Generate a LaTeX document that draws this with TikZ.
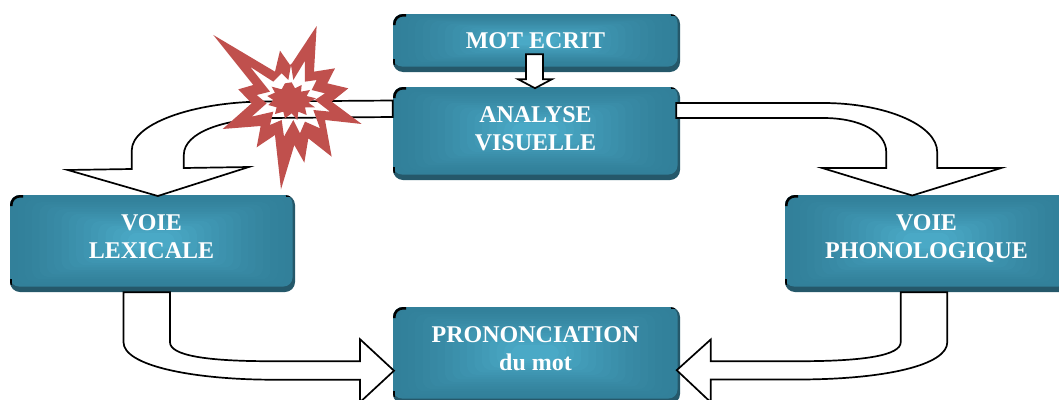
\documentclass[tikz,border=0pt]{standalone}
\usepackage{fontspec}
\setmainfont{Liberation Serif}
\usetikzlibrary{calc}
\definecolor{tealout}{HTML}{32809A}
\definecolor{tealin}{HTML}{4AA9C6}
\definecolor{tealdark}{HTML}{25586A}
\definecolor{starred}{HTML}{C0504D}
\newcommand{\boxtext}[2]{\kern-2pt\raisebox{\dimexpr#1-6pt\relax}[0pt][0pt]{\begin{tabular}{@{}c@{}}#2\end{tabular}}}
\tikzset{
  tealbox/.style n args={2}{rectangle, rounded corners=10pt, inner sep=0pt,
    minimum width=#1pt, minimum height=#2pt, fill=tealdark, text=white,
    font=\fontsize{24}{28}\selectfont\bfseries,
    path picture={
      \coordinate (nw) at (path picture bounding box.north west);
      \coordinate (se) at (path picture bounding box.south east);
      \fill[tealout, rounded corners=9pt] (nw) rectangle ($(se)+(-2.5,-5.5)$);
      \foreach \i in {1,...,16}{
        \pgfmathsetmacro{\ix}{\i*0.0258*#1}
        \pgfmathsetmacro{\iy}{\i*0.0258*(#2-5.5)}
        \pgfmathsetmacro{\mixv}{100*(\i/16)^1.4}
        \fill[tealin!\mixv!tealout, rounded corners=9pt]
          ($(nw)+(\ix,\iy)$) rectangle ($(se)+(-2.5,-5.5)+(-\ix,-\iy)$);
      }
      \draw[black, line width=5pt, rounded corners=10pt, line cap=butt]
        ($(nw)+(0,11)$) -- (nw) -- ($(nw)+(13,0)$);
      \draw[black, line width=4pt, line cap=butt]
        ($(nw)+(#1-9,0)$) -- ($(nw)+(#1-3,0)$);
      \draw[black, line width=4pt, line cap=butt]
        ($(nw)+(0,#2-13)$) -- ($(nw)+(0,#2-7)$);
    }},
  blockarrow/.style={draw=black, fill=white, line width=1.7pt, line join=miter},
  blast/.style={fill=starred, draw=none}
}
\begin{document}
\begin{tikzpicture}[x=1pt,y=-1pt]
\useasboundingbox (0,0) rectangle (1059,399);
\clip (0,0) rectangle (1059,399);
\fill[white] (0,0) rectangle (1059,399);
\node[tealbox={287}{58}] (mot) at (536.5,43) {\boxtext{0pt}{MOT ECRIT}};
\node[tealbox={287}{93}] (ana) at (536.5,133.5) {\boxtext{2.5pt}{ANALYSE\\VISUELLE}};
\node[tealbox={285}{97}] (lex) at (152.5,243.5) {\boxtext{4pt}{VOIE\\LEXICALE}};
\node[tealbox={285}{97}] (pho) at (927.5,243.5) {\boxtext{4pt}{VOIE\\PHONOLOGIQUE}};
\node[tealbox={287}{97}] (pro) at (536.5,355.5) {\boxtext{4pt}{PRONONCIATION\\du mot}};

\draw[blockarrow, shift={(mot.south)}]
  (-10.5,-18) -- (6.5,-18) -- (6.5,7) -- (15.5,7) -- (-1.5,16) -- (-18.5,7) -- (-10.5,7) -- cycle;

\draw[blockarrow, shift={(ana.west)}]
  (0,-33) -- (-128,-32) .. controls (-203,-31.5) and (-261,-8.5) .. (-261,16.5)
  -- (-261,35.5) -- (-325,36.5) -- (-235,62.5) -- (-144,33.5) -- (-209,34.5) -- (-209,21.5)
  .. controls (-209,-1.5) and (-168,-14.5) .. (-123,-15.5) -- (0,-16.5) -- cycle;

\draw[blockarrow, shift={(ana.east)}]
  (-4,-30.5) -- (143,-30.5) .. controls (205,-30.5) and (257,-8.5) .. (257,18.5)
  -- (257,34.5) -- (321,34.5) -- (232,62) -- (142,34.5) -- (206,34.5) -- (206,18.5)
  .. controls (206,-1.5) and (180,-15.5) .. (143,-15.5) -- (-4,-15.5) -- cycle;

\draw[blockarrow, shift={(lex.south)}]
  (-29,0) -- (-29,50) .. controls (-29,73) and (37.5,87) .. (117.5,87.5)
  -- (207.5,87.5) -- (207.5,110) -- (241.5,78.5) -- (207.5,47) -- (207.5,69) -- (117.5,69)
  .. controls (52.5,69) and (17.5,63) .. (17.5,50) -- (17.5,0) -- cycle;

\draw[blockarrow, shift={(pho.south)}]
  (-26.8,0) -- (-26.8,50) .. controls (-26.8,63) and (-62.5,69) .. (-127.5,69)
  -- (-216.8,69) -- (-216.8,47.3) -- (-250.8,78) -- (-216.8,110) -- (-216.8,87.3) -- (-127.5,87.3)
  .. controls (-42.5,87) and (19.8,73) .. (19.8,50) -- (19.8,0) -- cycle;

\begin{scope}[shift={(210,20)}, x=0.3333pt, y=-0.3333pt]
\fill[blast, even odd rule]
  (10,45) -- (195,155) -- (210,92) -- (240,135) -- (246,130) -- (320,18) -- (312,155) -- (375,145)
  -- (352,190) -- (415,205) -- (365,245) -- (455,312) -- (345,300) -- (365,410) -- (295,355)
  -- (283,428) -- (253,375) -- (213,508) -- (195,345) -- (140,382) -- (152,318) -- (38,327)
  -- (125,250) -- (85,208) -- (130,195) -- cycle
  (120,140) -- (190,185) -- (215,160) -- (235,180) -- (243,135) -- (250,180) -- (285,122)
  -- (285,185) -- (320,180) -- (305,210) -- (345,220) -- (315,240) -- (360,275) -- (310,270)
  -- (330,325) -- (285,305) -- (270,340) -- (250,300) -- (222,350) -- (215,300) -- (180,315)
  -- (190,275) -- (125,290) -- (170,250) -- (140,225) -- (180,215) -- cycle;
\fill[blast]
  (245,187) -- (255,205) -- (275,195) -- (273,215) -- (300,210) -- (290,228) -- (318,235)
  -- (295,248) -- (315,262) -- (285,262) -- (290,285) -- (265,275) -- (262,300) -- (245,280)
  -- (225,295) -- (220,275) -- (195,282) -- (200,262) -- (175,255) -- (190,240) -- (172,228)
  -- (195,218) -- (185,200) -- (215,208) -- (225,190) -- cycle;
\end{scope}
\end{tikzpicture}
\end{document}
